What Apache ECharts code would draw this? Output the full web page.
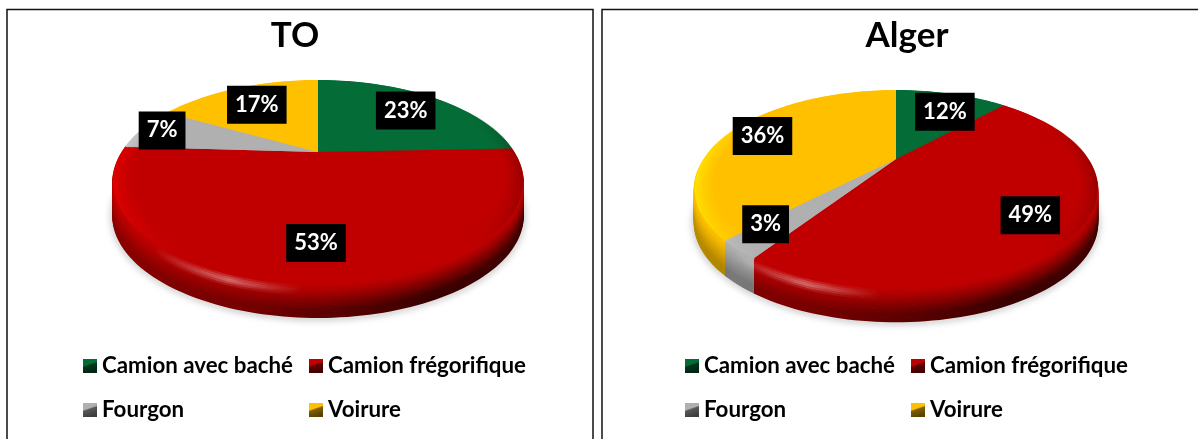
<!DOCTYPE html>
<html><head><meta charset="utf-8">
<style>html,body{margin:0;padding:0;background:#fff}#c{width:1198px;height:439px}</style>
<script src="https://cdn.jsdelivr.net/npm/echarts@6/dist/echarts.min.js"></script>
</head><body><div id="c"></div>
<script>
const categories = ['Camion avec baché', 'Camion frégorifique', 'Fourgon', 'Voirure'];
const toValues = [23, 53, 7, 17];
const algerValues = [12, 49, 3, 36];
const panelTitles = ['TO', 'Alger'];
const sliceColors = ['#046c36', '#c00000', '#b0b0b0', '#ffc000'];

const FONT = 'Lato, "Open Sans", sans-serif';
const toGeom = {cx: 318, apexY: 152, A: 196, B: 92.9, k: -0.29, depth: 34, labelFrac: [0.72, 0.756, 0.894, 0.71],
  labelNudge: [[7, 2], [-8, 1], [1, 0], [-1, 1]], legendX: [83, 309]};
const algerGeom = {cx: 896, apexY: 159, A: 192, B: 89.7, k: -0.30, depth: 34, labelFrac: [0.69, 0.787, 0.813, 0.81],
  labelNudge: [[8, 1], [0, 1], [3, 3], [-6, 5]], legendX: [685, 911]};
const legendY = [358, 402];

function rgb(h) { return [1, 3, 5].map(i => parseInt(h.substr(i, 2), 16)); }
function css(c, a) { return 'rgba(' + c.map(v => Math.max(0, Math.min(255, Math.round(v)))).join(',') + ',' + (a == null ? 1 : a) + ')'; }
function mul(c, f) { return c.map(v => v * f); }
function mix(a, b, t) { return a.map((v, i) => v + (b[i] - v) * t); }

// the drawn pie is foreshortened a little unevenly towards the viewer
function warp(pct) {
  const d = pct * 3.6;
  if (d > 45 && d < 180) return pct + 6.5 * Math.sin((d - 45) * 180 / 135 * Math.PI / 180) / 3.6;
  if (d > 180 && d < 275) return pct - 6 * Math.sin((d - 180) * 180 / 95 * Math.PI / 180) / 3.6;
  return pct;
}
// perspective projection of a point of the unit disc (angle in percent of the full turn, clockwise from north)
function project(g, pct, f) {
  const th = pct / 100 * 2 * Math.PI, u = f * Math.sin(th), v = -f * Math.cos(th), w = 1 + g.k * v;
  return [g.cx + g.A * u / w, g.apexY + g.B * v / w];
}
function rim(g, from, to, f, dy) {
  const pts = [], n = Math.max(2, Math.ceil((to - from) * 2));
  for (let i = 0; i <= n; i++) { const p = project(g, warp(from + (to - from) * i / n), f); pts.push([p[0], p[1] + dy]); }
  return pts;
}
function halfW(g) { return g.A / Math.sqrt(1 - g.k * g.k); }
function hGrad(g, stops) {
  const w = halfW(g);
  return new echarts.graphic.LinearGradient(g.cx - w, 0, g.cx + w, 0, stops, true);
}

function sideItem(g, colorIdx) {
  return function (params, api) {
    const from = api.value(0), to = api.value(1), base = rgb(sliceColors[colorIdx]);
    const children = [], N = 24;
    for (let j = N; j >= 1; j--) {
      const t = j / N, s = Math.min(1, t * t * (3 - 2 * t) * 0.55 + t * 0.65);
      const col = x => css(mix(base, mul(base, x), s));
      children.push({
        type: 'polyline',
        shape: {points: rim(g, from, to, 1, t * g.depth)},
        style: {
          fill: 'none', lineWidth: 2.2,
          stroke: hGrad(g, [{offset: 0, color: col(0.72)}, {offset: 0.3, color: col(0.62)}, {offset: 0.55, color: col(0.46)}, {offset: 0.78, color: col(0.3)}, {offset: 1, color: col(0.34)}]),
          shadowBlur: j === N ? 7 : 0, shadowColor: 'rgba(0,0,0,0.55)', shadowOffsetY: j === N ? 1 : 0
        }
      });
    }
    // underlay so that no background shows between the top face and the wall
    children.push({
      type: 'polygon',
      shape: {points: [[g.cx, g.apexY + 1.2]].concat(rim(g, from, to, 1, 1.2))},
      style: {fill: css(base)}
    });
    // specular highlight on the front-left edge
    for (let j = 0; j < 5; j++) {
      const a = [0.14, 0.3, 0.38, 0.26, 0.1][j];
      children.push({
        type: 'polyline',
        shape: {points: rim(g, from, to, 1, 3 + j * 2.2)},
        style: {fill: 'none', lineWidth: 2.4, stroke: hGrad(g, [
          {offset: 0.1, color: 'rgba(255,255,255,0)'}, {offset: 0.28, color: 'rgba(255,255,255,' + a + ')'}, {offset: 0.46, color: 'rgba(255,255,255,0)'}])}
      });
    }
    return {type: 'group', children};
  };
}

function topItem(g, colorIdx) {
  return function (params, api) {
    const from = api.value(0), to = api.value(1), base = rgb(sliceColors[colorIdx]);
    const apex = [g.cx, g.apexY];
    const children = [{
      type: 'polygon',
      shape: {points: [apex].concat(rim(g, from, to, 1, 0))},
      style: {fill: css(base)}
    }];
    // soft bevel: brighter on the left edge, darker on the right edge
    for (let j = 0; j < 7; j++) {
      const f = 0.995 - j * 0.012, a = 1 - j / 7;
      children.push({
        type: 'polyline',
        shape: {points: rim(g, from, to, f, 0)},
        style: {fill: 'none', lineWidth: 2.6, stroke: hGrad(g, [
          {offset: 0, color: css(mul(base, 1.18), 0.95 * a)},
          {offset: 0.2, color: css(base, 0)}, {offset: 0.85, color: css(base, 0)},
          {offset: 1, color: css(mul(base, 0.72), 0.7 * a)}])}
      });
    }
    return {type: 'group', children};
  };
}

function labelItem(g) {
  return function (params, api) {
    const from = api.value(0), to = api.value(1), val = api.value(2), f = api.value(3);
    const p = project(g, (from + to) / 2, f), n = g.labelNudge[params.dataIndex];
    return {
      type: 'text', x: p[0] + n[0], y: p[1] + n[1],
      style: {text: val + '%', fill: '#fff', font: 'bold 22px ' + FONT, align: 'center', verticalAlign: 'middle',
        backgroundColor: '#000', padding: [8, 8, 8, 8]}
    };
  };
}

function spans(values) {
  let c = 0;
  return values.map(v => { const s = [c, c + v, v]; c += v; return s; });
}

const series = [], legends = [];
[[toValues, toGeom], [algerValues, algerGeom]].forEach(([values, g]) => {
  const sp = spans(values);
  sp.forEach((s, i) => {
    series.push({type: 'custom', name: categories[i], coordinateSystem: 'none', z: 2, silent: true, clip: false,
      renderItem: sideItem(g, i), data: [s], itemStyle: {color: sliceColors[i]}});
  });
  sp.forEach((s, i) => {
    series.push({type: 'custom', name: categories[i], coordinateSystem: 'none', z: 3, silent: true, clip: false,
      renderItem: topItem(g, i), data: [s], itemStyle: {color: sliceColors[i]}});
  });
  series.push({type: 'custom', name: 'labels', coordinateSystem: 'none', z: 4, silent: true, clip: false,
    renderItem: labelItem(g), data: sp.map((s, i) => [s[0], s[1], s[2], g.labelFrac[i]])});
  categories.forEach((name, i) => {
    const base = rgb(sliceColors[i]);
    legends.push({
      data: [name], selectedMode: false, icon: 'rect', itemWidth: 14, itemHeight: 14, itemGap: 5, padding: 0,
      left: g.legendX[i % 2], top: legendY[Math.floor(i / 2)] - 3,
      itemStyle: {color: new echarts.graphic.LinearGradient(0, 0, 0.35, 1, [
        {offset: 0, color: css(base)}, {offset: 0.45, color: css(base)},
        {offset: 0.55, color: css(mul(base, 0.5))}, {offset: 1, color: css(mul(base, 0.35))}])},
      textStyle: {fontFamily: FONT, fontWeight: 'bold', fontSize: 22.3, color: '#000', padding: [1, 0, 0, 0]}
    });
  });
});

const chart = echarts.init(document.getElementById('c'), null, {renderer: 'canvas'});
chart.setOption({
  animation: false,
  backgroundColor: '#fff',
  title: [
    {text: panelTitles[0], left: 290, top: 13, textAlign: 'center', textStyle: {fontFamily: FONT, fontWeight: 'bold', fontSize: 35, color: '#000'}},
    {text: panelTitles[1], left: 902, top: 13, textAlign: 'center', textStyle: {fontFamily: FONT, fontWeight: 'bold', fontSize: 35, color: '#000'}}
  ],
  legend: legends,
  graphic: [
    {type: 'polyline', z: 0, silent: true, shape: {points: [[7, 445], [7, 9.5], [593, 9.5], [593, 445]]}, style: {fill: 'none', stroke: '#111', lineWidth: 1.5}},
    {type: 'polyline', z: 0, silent: true, shape: {points: [[602, 445], [602, 9.5], [1205, 9.5]]}, style: {fill: 'none', stroke: '#111', lineWidth: 1.5}}
  ],
  series: series
});
</script></body></html>
